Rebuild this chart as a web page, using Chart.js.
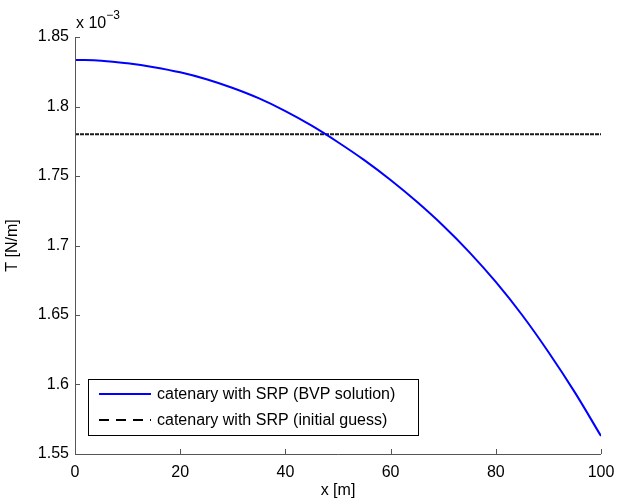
<!DOCTYPE html>
<html>
<head>
<meta charset="utf-8">
<script src="https://cdn.jsdelivr.net/npm/chart.js@4/dist/chart.umd.min.js"></script>
<style>
    html, body { margin: 0; padding: 0; background: #fff; }
    #box { width: 617px; height: 503px; }
</style>
</head>
<body>
<div id="box"><canvas id="grafico"></canvas></div>
<script>
// posição ao longo do cabo [m]
const posicoes = [0, 5, 10, 15, 20, 25, 30, 35, 40, 45, 50, 55, 60, 65, 70, 75, 80, 85, 90, 95, 100];
// tração, em unidades de 10^-3 N/m
const tracaoBVP = [1.8335, 1.8330, 1.8311, 1.8283, 1.8246, 1.8196, 1.8133, 1.8058, 1.7967, 1.7862, 1.7743,
    1.7614, 1.7471, 1.7314, 1.7142, 1.6951, 1.6738, 1.6500, 1.6234, 1.5945, 1.5629];
const posicoesChute = [0, 100];
const tracaoChute = [1.7800, 1.7800];

const legendas = ['catenary with SRP (BVP solution)', 'catenary with SRP (initial guess)'];
const ticksX = [0, 20, 40, 60, 80, 100];
const ticksY = [1.55, 1.6, 1.65, 1.7, 1.75, 1.8, 1.85];

const FONTE = 'Liberation Sans, Arial, Helvetica, sans-serif';
const COR_EIXO = '#555';

const pares = (xs, ys) => xs.map((x, i) => ({ x: x, y: ys[i] }));

// ticks para dentro, eixo só à esquerda e embaixo (estilo MATLAB)
const eixosMatlab = {
    id: 'eixosMatlab',
    afterDraw(chart) {
        const ctx = chart.ctx;
        const { left, right, top, bottom } = chart.chartArea;
        const sx = chart.scales.x;
        const sy = chart.scales.y;
        ctx.save();
        ctx.strokeStyle = COR_EIXO;
        ctx.lineWidth = 1;
        ctx.beginPath();
        ctx.moveTo(left + 0.5, top);
        ctx.lineTo(left + 0.5, bottom + 0.5);
        ctx.lineTo(right, bottom + 0.5);
        ticksX.forEach(v => {
            const px = Math.round(sx.getPixelForValue(v)) + 0.5;
            ctx.moveTo(px, bottom);
            ctx.lineTo(px, bottom - 5);
        });
        ticksY.forEach(v => {
            const py = Math.round(sy.getPixelForValue(v)) + 0.5;
            ctx.moveTo(left, py);
            ctx.lineTo(left + 5, py);
        });
        ctx.stroke();

        // multiplicador do eixo y
        ctx.fillStyle = '#000';
        ctx.textBaseline = 'alphabetic';
        ctx.textAlign = 'left';
        ctx.font = '16px ' + FONTE;
        ctx.fillText('x 10', left + 1, top - 9);
        const w = ctx.measureText('x 10').width;
        ctx.font = '12px ' + FONTE;
        ctx.fillText('\u22123', left + 1 + w, top - 18);

        // legenda
        const lx = 88, ly = 379, lw = 330, lh = 56;
        ctx.fillStyle = '#fff';
        ctx.fillRect(lx, ly, lw, lh);
        ctx.strokeStyle = '#000';
        ctx.lineWidth = 1;
        ctx.strokeRect(lx + 0.5, ly + 0.5, lw, lh);
        chart.data.datasets.forEach((ds, i) => {
            const yy = ly + 15 + i * 26;
            ctx.strokeStyle = i === 1 ? '#000' : ds.borderColor;
            ctx.lineWidth = 2;
            ctx.setLineDash(i === 1 ? [10, 7] : []);
            ctx.beginPath();
            ctx.moveTo(lx + 11, yy);
            ctx.lineTo(lx + 63, yy);
            ctx.stroke();
            ctx.setLineDash([]);
            ctx.fillStyle = '#000';
            ctx.font = '16px ' + FONTE;
            ctx.textBaseline = 'middle';
            ctx.fillText(ds.label, lx + 69, yy + 1);
        });
        ctx.restore();
    }
};

new Chart(document.getElementById('grafico'), {
    type: 'line',
    data: {
        datasets: [{
            label: legendas[0],
            data: pares(posicoes, tracaoBVP),
            borderColor: '#0000ff',
            borderWidth: 2,
            pointRadius: 0,
            tension: 0.4,
            fill: false
        }, {
            label: legendas[1],
            data: pares(posicoesChute, tracaoChute),
            borderColor: '#1a1a1a',
            borderWidth: 2,
            borderDash: [4, 1],
            pointRadius: 0,
            fill: false
        }]
    },
    options: {
        responsive: true,
        maintainAspectRatio: false,
        animation: false,
        layout: { padding: { top: 37, right: 16, left: 0, bottom: 0 } },
        plugins: {
            legend: { display: false },
            tooltip: { enabled: false }
        },
        scales: {
            x: {
                type: 'linear',
                min: 0,
                max: 100,
                afterBuildTicks: s => { s.ticks = ticksX.map(v => ({ value: v })); },
                afterFit: s => {
                    s.height = 49;
                    s.paddingLeft = 0;
                    s.paddingRight = 0;
                },
                border: { display: false },
                grid: { display: false, drawTicks: false },
                ticks: {
                    padding: 9,
                    color: '#000',
                    maxRotation: 0,
                    font: { family: FONTE, size: 16 }
                },
                title: {
                    display: true,
                    text: 'x [m]',
                    color: '#000',
                    padding: { top: 0, bottom: 3 },
                    font: { family: FONTE, size: 16 }
                }
            },
            y: {
                min: 1.55,
                max: 1.85,
                afterBuildTicks: s => { s.ticks = ticksY.map(v => ({ value: v })); },
                afterFit: s => {
                    s.width = 75;
                    s.paddingTop = 0;
                    s.paddingBottom = 0;
                },
                border: { display: false },
                grid: { display: false, drawTicks: false },
                ticks: {
                    padding: 6,
                    color: '#000',
                    font: { family: FONTE, size: 16 },
                    callback: v => String(+v.toFixed(2))
                },
                title: {
                    display: true,
                    text: 'T [N/m]',
                    color: '#000',
                    padding: { top: 3, bottom: 0 },
                    font: { family: FONTE, size: 16 }
                }
            }
        }
    },
    plugins: [eixosMatlab]
});
</script>
</body>
</html>
